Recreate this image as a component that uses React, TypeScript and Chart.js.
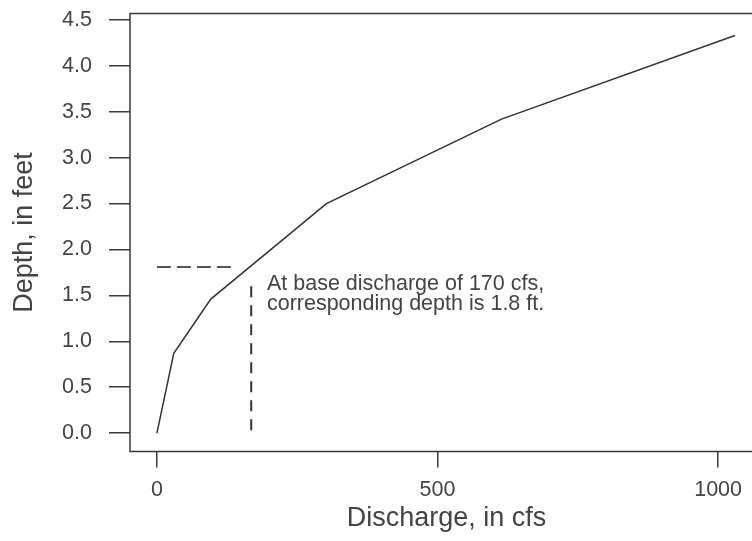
import React, { useEffect, useRef } from "react";
import { Chart, registerables } from "chart.js";

Chart.register(...registerables);

// Rating curve
const discharge = [0, 30, 96, 302, 614, 1030];
const depth = [0, 0.87, 1.46, 2.5, 3.42, 4.33];

// Base discharge guide lines
const hGuideX = [0, 135];
const hGuideY = [1.81, 1.81];
const vGuideX = [168, 168];
const vGuideY = [1.6, 0];

// Ticks
const xTicks = [0, 500, 1000];
const yTicks = [0, 0.5, 1, 1.5, 2, 2.5, 3, 3.5, 4, 4.5];

const annotationLines = [
  "At base discharge of 170 cfs,",
  "corresponding depth is 1.8 ft.",
];
const annotationX = 196;
const annotationY = 1.56;

const FONT = "'Liberation Sans', Arial, Helvetica, sans-serif";
const INK = "#3a3a3a";

export default function App() {
  const ref = useRef<HTMLCanvasElement | null>(null);

  useEffect(() => {
    const canvas = ref.current!;
    const boxPlugin = {
      id: "boxAndNote",
      afterDraw(chart: any) {
        const { ctx, chartArea } = chart;
        ctx.save();
        ctx.strokeStyle = INK;
        ctx.lineWidth = 1.5;
        ctx.strokeRect(
          chartArea.left,
          chartArea.top,
          chartArea.right - chartArea.left,
          chartArea.bottom - chartArea.top
        );
        const xs = chart.scales.x;
        const ys = chart.scales.y;
        const px = xs.getPixelForValue(annotationX);
        const py = ys.getPixelForValue(annotationY);
        ctx.fillStyle = "#444";
        ctx.font = `21.5px ${FONT}`;
        ctx.textAlign = "left";
        ctx.textBaseline = "alphabetic";
        annotationLines.forEach((t, i) => ctx.fillText(t, px, py + i * 20.5));
        ctx.restore();
      },
    };

    const chart = new Chart(canvas, {
      type: "scatter",
      data: {
        datasets: [
          {
            data: discharge.map((x, i) => ({ x, y: depth[i] })),
            showLine: true,
            borderColor: "#333",
            borderWidth: 1.5,
            pointRadius: 0,
            fill: false,
          },
          {
            data: hGuideX.map((x, i) => ({ x, y: hGuideY[i] })),
            showLine: true,
            borderColor: "#555",
            borderWidth: 2,
            borderDash: [14, 6],
            pointRadius: 0,
          },
          {
            data: vGuideX.map((x, i) => ({ x, y: vGuideY[i] })),
            showLine: true,
            borderColor: "#333",
            borderWidth: 2,
            borderDash: [11, 8],
            pointRadius: 0,
          },
        ],
      },
      options: {
        animation: false,
        responsive: false,
        layout: { padding: { top: 13.5, right: 17, bottom: 0, left: 0 } },
        plugins: { legend: { display: false }, tooltip: { enabled: false } },
        scales: {
          x: {
            type: "linear",
            min: -48,
            max: 1080,
            afterBuildTicks: (s: any) => {
              s.ticks = xTicks.map((v) => ({ value: v }));
            },
            afterFit: (s: any) => {
              s.height = 89.5;
              s.paddingLeft = 0;
              s.paddingRight = 0;
            },
            border: { display: false },
            grid: {
              drawOnChartArea: false,
              drawTicks: true,
              tickLength: 16,
              color: INK,
              lineWidth: 1.5,
            },
            ticks: {
              padding: 10,
              color: "#444",
              font: { family: FONT, size: 21.5 },
              maxRotation: 0,
              callback: (v: any) => String(v),
            },
            title: {
              display: true,
              text: "Discharge, in cfs",
              color: "#444",
              font: { family: FONT, size: 27 },
              padding: { top: 0, bottom: 6 },
            },
          },
          y: {
            type: "linear",
            min: -0.2,
            max: 4.57,
            afterBuildTicks: (s: any) => {
              s.ticks = yTicks.map((v) => ({ value: v }));
            },
            afterFit: (s: any) => {
              s.width = 130;
              s.paddingTop = 0;
              s.paddingBottom = 0;
            },
            border: { display: false },
            grid: {
              drawOnChartArea: false,
              drawTicks: true,
              tickLength: 21,
              color: INK,
              lineWidth: 1.5,
            },
            ticks: {
              padding: 17,
              color: "#444",
              font: { family: FONT, size: 21.5 },
              callback: (v: any) => Number(v).toFixed(1),
            },
            title: {
              display: true,
              text: "Depth, in feet",
              color: "#444",
              font: { family: FONT, size: 27 },
              padding: { top: 8, bottom: 0 },
            },
          },
        },
      },
      plugins: [boxPlugin],
    });
    return () => chart.destroy();
  }, []);

  return (
    <div
      style={{
        position: "fixed",
        left: 0,
        top: 0,
        width: 752,
        height: 541,
        overflow: "hidden",
        background: "#fff",
      }}
    >
      <canvas ref={ref} width={780} height={541} style={{ display: "block" }} />
    </div>
  );
}
